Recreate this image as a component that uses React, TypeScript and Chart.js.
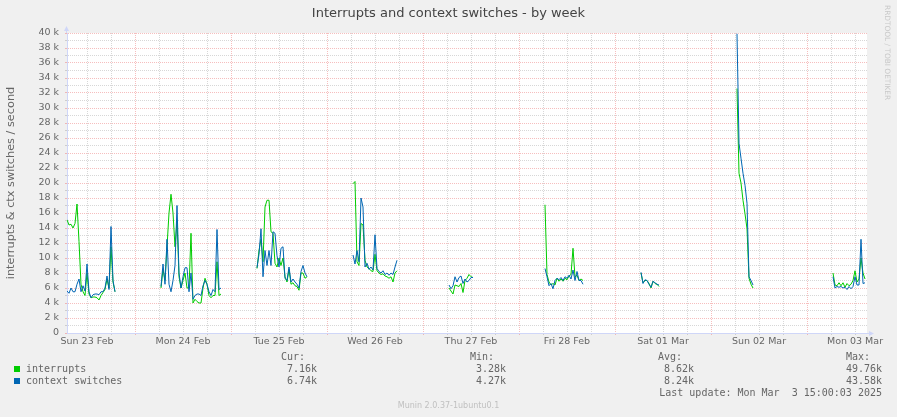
import React, { useEffect, useRef } from 'react';
import { Chart, registerables } from 'chart.js';

Chart.register(...registerables);

// ---- axis / labels ----
const chartTitle = 'Interrupts and context switches - by week';
const yAxisTitle = 'interrupts & ctx switches / second';
const dayLabels = ['Sun 23 Feb', 'Mon 24 Feb', 'Tue 25 Feb', 'Wed 26 Feb', 'Thu 27 Feb', 'Fri 28 Feb', 'Sat 01 Mar', 'Sun 02 Mar', 'Mon 03 Mar'];
// x axis: hours since Sun 23 Feb 07:00 (graph spans 200 hours, ends Mon 03 Mar 15:00)
const X_MAX_HOURS = 200;
const FIRST_NOON_HOUR = 5;
const FIRST_MIDNIGHT_HOUR = 17;
const Y_MAX_K = 40;
const STEP_HOURS = 0.5;

// ---- data (thousands per second), one run of samples per day ----
const segmentStartHours = [0, 23.5, 47.5, 71.5, 95.5, 119.5, 143.5, 167.5, 191.5];

const interruptsSun23 = [15.1, 14.4, 14.5, 14.0, 14.6, 17.2, 12.2, 6.5, 5.5, 5.0, 8.0, 5.2, 4.7, 4.8, 4.8, 4.7, 4.4, 5.0, 5.4, 5.8, 7.2, 6.0, 11.5, 6.8, 5.5];
const ctxSwitchesSun23 = [5.6, 5.3, 6.0, 5.5, 5.5, 6.5, 7.2, 5.5, 6.3, 5.6, 9.2, 5.5, 4.7, 5.1, 5.2, 5.2, 5.1, 5.5, 5.5, 6.0, 7.6, 5.8, 14.2, 7.0, 5.5];

const interruptsMon24 = [6.0, 8.5, 7.0, 11.5, 16.0, 18.5, 16.0, 11.5, 15.0, 7.5, 6.0, 7.0, 8.0, 6.0, 6.0, 13.3, 4.0, 4.5, 4.2, 4.0, 4.0, 6.0, 7.3, 6.5, 5.0, 4.7, 5.0, 5.0, 9.5, 5.0, 5.2];
const ctxSwitchesMon24 = [6.2, 9.2, 6.5, 12.5, 6.5, 5.5, 7.0, 9.0, 17.0, 8.0, 6.0, 7.5, 8.7, 8.7, 5.5, 8.0, 4.5, 5.0, 5.2, 5.2, 5.0, 6.3, 7.0, 6.5, 5.5, 5.0, 5.8, 5.5, 13.8, 5.8, 6.0];

const interruptsTue25 = [8.6, 11.0, 12.5, 9.5, 16.8, 17.7, 17.7, 13.5, 13.3, 9.3, 8.8, 10.0, 9.0, 10.0, 7.5, 6.8, 8.5, 6.5, 6.7, 6.3, 6.2, 5.7, 8.0, 8.0, 7.3, 7.5];
const ctxSwitchesTue25 = [8.7, 10.5, 13.9, 7.5, 11.0, 9.0, 11.0, 9.0, 13.5, 13.3, 10.3, 8.8, 11.3, 11.5, 7.3, 7.0, 8.8, 6.8, 7.2, 6.8, 6.5, 6.0, 8.2, 9.0, 8.0, 7.5];

const interruptsWed26 = [19.9, 20.2, 9.5, 9.0, 14.6, 14.4, 9.7, 8.8, 8.6, 8.3, 8.2, 10.5, 8.3, 8.0, 7.8, 7.9, 7.6, 7.5, 7.3, 7.5, 6.8, 8.0, 8.3];
const ctxSwitchesWed26 = [10.4, 9.2, 11.0, 9.5, 18.0, 16.8, 8.8, 9.3, 8.5, 8.8, 8.4, 13.1, 8.6, 8.2, 8.0, 8.3, 7.8, 8.0, 7.7, 8.0, 7.8, 8.8, 9.7];

const interruptsThu27 = [6.0, 5.6, 5.2, 6.4, 6.3, 6.2, 6.6, 5.4, 7.0, 7.3, 7.8, 7.5, 7.4];
const ctxSwitchesThu27 = [6.4, 5.9, 6.3, 7.5, 6.8, 7.4, 7.6, 6.6, 7.2, 6.8, 7.0, 7.4, 7.4];

const interruptsFri28 = [17.1, 7.8, 6.8, 6.4, 6.6, 6.4, 7.3, 6.9, 7.2, 6.9, 7.3, 7.1, 7.6, 7.8, 11.3, 7.5, 7.7, 7.0, 7.2, 7.0];
const ctxSwitchesFri28 = [8.6, 7.5, 6.3, 6.6, 5.9, 7.0, 7.3, 7.1, 7.4, 7.0, 7.5, 7.3, 7.7, 7.2, 8.4, 7.0, 8.2, 7.0, 7.0, 6.5];

const interruptsSat01 = [8.0, 6.7, 7.0, 7.0, 6.6, 6.0, 6.9, 6.6, 6.5, 6.2];
const ctxSwitchesSat01 = [8.1, 6.6, 7.1, 7.0, 6.5, 6.1, 6.9, 6.7, 6.5, 6.4];

const interruptsSun02 = [32.6, 21.3, 20.0, 17.7, 15.9, 13.9, 7.3, 6.5, 6.0];
const ctxSwitchesSun02 = [39.9, 25.3, 23.3, 21.3, 19.7, 17.3, 7.5, 7.0, 6.4];

const interruptsMon03 = [8.0, 6.4, 6.3, 6.7, 6.3, 6.7, 6.1, 6.6, 6.3, 6.5, 7.0, 8.3, 6.8, 7.2, 10.0, 8.0, 7.2];
const ctxSwitchesMon03 = [7.5, 6.0, 6.2, 6.1, 6.2, 6.0, 6.1, 5.8, 6.2, 5.9, 6.2, 7.5, 6.4, 6.4, 12.5, 6.6, 6.7];

const interruptsSegments = [interruptsSun23, interruptsMon24, interruptsTue25, interruptsWed26, interruptsThu27, interruptsFri28, interruptsSat01, interruptsSun02, interruptsMon03];
const ctxSwitchesSegments = [ctxSwitchesSun23, ctxSwitchesMon24, ctxSwitchesTue25, ctxSwitchesWed26, ctxSwitchesThu27, ctxSwitchesFri28, ctxSwitchesSat01, ctxSwitchesSun02, ctxSwitchesMon03];

// ---- legend ----
const legendHeaders = ['Cur:', 'Min:', 'Avg:', 'Max:'];
const interruptsStats = ['7.16k', '3.28k', '8.62k', '49.76k'];
const ctxSwitchesStats = ['6.74k', '4.27k', '8.24k', '43.58k'];
const lastUpdate = 'Last update: Mon Mar  3 15:00:03 2025';
const footerText = 'Munin 2.0.37-1ubuntu0.1';
const watermark = 'RRDTOOL / TOBI OETIKER';

// ---- styles ----
const GREEN = '#00cc00';
const BLUE = '#0066b3';
const AXIS = '#CFD6F8';
const MAJOR_GRID = 'rgba(235,110,110,0.45)';
const MINOR_GRID = 'rgba(130,130,130,0.32)';
const FONT_COLOR = '#666666';
const W = 897;
const H = 417;

function buildPoints(segments: number[][]) {
  const pts: { x: number; y: number | null }[] = [];
  segments.forEach((seg, s) => {
    const start = segmentStartHours[s];
    seg.forEach((v, i) => pts.push({ x: start + i * STEP_HOURS, y: v }));
    pts.push({ x: start + seg.length * STEP_HOURS, y: null });
  });
  return pts;
}

const isMidnight = (h: number) => (h - FIRST_MIDNIGHT_HOUR) % 24 === 0;
const isNoon = (h: number) => (h - FIRST_NOON_HOUR) % 24 === 0;

const bgPlugin = {
  id: 'canvasBg',
  beforeDraw(chart: any) {
    const { ctx, chartArea: a } = chart;
    ctx.save();
    ctx.fillStyle = '#ffffff';
    ctx.fillRect(a.left, a.top, a.right - a.left, a.bottom - a.top);
    ctx.restore();
  },
};

const arrowPlugin = {
  id: 'axisArrows',
  afterDraw(chart: any) {
    const { ctx, chartArea: a } = chart;
    const xs = chart.scales.x;
    const ys = chart.scales.y;
    const ax = Math.round(ys.right) - 0.5;
    const ay = Math.round(xs.top) + 0.5;
    ctx.save();
    ctx.strokeStyle = AXIS;
    ctx.fillStyle = AXIS;
    ctx.lineWidth = 1;
    ctx.beginPath();
    ctx.moveTo(ax, a.top);
    ctx.lineTo(ax, a.top - 3);
    ctx.moveTo(a.right, ay);
    ctx.lineTo(a.right + 3, ay);
    ctx.stroke();
    ctx.beginPath();
    ctx.moveTo(ax - 2.5, a.top - 2);
    ctx.lineTo(ax + 2.5, a.top - 2);
    ctx.lineTo(ax, a.top - 7);
    ctx.closePath();
    ctx.fill();
    ctx.beginPath();
    ctx.moveTo(a.right + 2, ay - 2.5);
    ctx.lineTo(a.right + 2, ay + 2.5);
    ctx.lineTo(a.right + 7, ay);
    ctx.closePath();
    ctx.fill();
    ctx.restore();
  },
};

type TxtProps = { x: number; y: number; align: 'left' | 'right' | 'center'; size: number; mono?: boolean; color?: string; children: React.ReactNode };
function Txt({ x, y, align, size, mono, color, children }: TxtProps) {
  const lh = Math.round(size * 1.2);
  const style: React.CSSProperties = {
    position: 'absolute',
    top: y - lh / 2,
    lineHeight: lh + 'px',
    fontSize: size,
    fontFamily: mono ? '"DejaVu Sans Mono", monospace' : '"DejaVu Sans", sans-serif',
    color: color || FONT_COLOR,
    whiteSpace: 'pre',
  };
  if (align === 'left') style.left = x;
  else if (align === 'right') style.right = W - x;
  else {
    style.left = 0;
    style.width = W;
    style.textAlign = 'center';
  }
  return <div style={style}>{children}</div>;
}

export default function App() {
  const canvasRef = useRef<HTMLCanvasElement>(null);

  useEffect(() => {
    const canvas = canvasRef.current;
    if (!canvas) return;
    const xTicks: number[] = [];
    for (let h = FIRST_NOON_HOUR; h <= X_MAX_HOURS; h += 6) xTicks.push(h);

    const chart = new Chart(canvas, {
      type: 'line',
      data: {
        datasets: [
          {
            label: 'interrupts',
            data: buildPoints(interruptsSegments) as any,
            borderColor: GREEN,
            borderWidth: 1,
            pointRadius: 0,
            tension: 0,
            spanGaps: false,
            order: 2,
          },
          {
            label: 'context switches',
            data: buildPoints(ctxSwitchesSegments) as any,
            borderColor: BLUE,
            borderWidth: 1,
            pointRadius: 0,
            tension: 0,
            spanGaps: false,
            order: 1,
          },
        ],
      },
      options: {
        animation: false,
        responsive: false,
        devicePixelRatio: 1,
        layout: { padding: { left: 0, top: 33, right: 30, bottom: 64 } },
        plugins: { legend: { display: false }, tooltip: { enabled: false }, title: { display: false } },
        scales: {
          x: {
            type: 'linear',
            min: 0,
            max: X_MAX_HOURS,
            afterBuildTicks: (scale: any) => {
              scale.ticks = xTicks.map((v) => ({ value: v }));
            },
            afterFit: (scale: any) => {
              scale.height = 20;
            },
            ticks: {
              autoSkip: false,
              maxRotation: 0,
              minRotation: 0,
              padding: 1,
              color: FONT_COLOR,
              font: { family: 'DejaVu Sans', size: 9.5 },
              callback: (v: any) => (isNoon(Number(v)) ? dayLabels[(Number(v) - FIRST_NOON_HOUR) / 24] : ''),
            },
            grid: {
              color: (c: any) => (c.tick && isMidnight(c.tick.value) ? MAJOR_GRID : MINOR_GRID),
              lineWidth: 1,
              drawTicks: true,
              tickLength: 2,
            },
            border: { display: true, color: AXIS, width: 1, dash: [1, 1] },
          },
          y: {
            type: 'linear',
            min: 0,
            max: Y_MAX_K,
            afterFit: (scale: any) => {
              scale.width = 67;
            },
            ticks: {
              stepSize: 1,
              maxTicksLimit: 100,
              autoSkip: false,
              padding: 6,
              color: FONT_COLOR,
              font: { family: 'DejaVu Sans', size: 9.5 },
              callback: (v: any) => {
                const n = Number(v);
                if (n % 2 !== 0) return '';
                return n === 0 ? '0' : n + ' k';
              },
            },
            grid: {
              color: (c: any) => (c.tick && c.tick.value % 2 === 0 ? MAJOR_GRID : MINOR_GRID),
              lineWidth: 1,
              drawTicks: true,
              tickLength: 2,
            },
            border: { display: true, color: AXIS, width: 1, dash: [1, 1] },
            title: {
              display: true,
              text: yAxisTitle,
              color: FONT_COLOR,
              font: { family: 'DejaVu Sans', size: 11.3 },
              padding: { top: 4, bottom: 0 },
            },
          },
        },
      },
      plugins: [bgPlugin, arrowPlugin],
    } as any);
    return () => chart.destroy();
  }, []);

  const headerRight = [305, 494, 682, 870];
  const valueRight = [317, 506, 694, 882];

  return (
    <div style={{ position: 'fixed', left: 0, top: 0, width: W, height: H, background: '#f0f0f0', overflow: 'hidden' }}>
      <canvas ref={canvasRef} width={W} height={H} style={{ position: 'absolute', left: 0, top: 0, width: W, height: H }} />
      <Txt x={W / 2} y={13} align="center" size={13} color="#444444">{chartTitle}</Txt>
      <div
        style={{
          position: 'absolute',
          left: 882,
          top: 5,
          width: 10,
          writingMode: 'vertical-rl',
          fontFamily: '"DejaVu Sans", sans-serif',
          fontSize: 7.4,
          lineHeight: '10px',
          color: '#c8c8c8',
          whiteSpace: 'pre',
        }}
      >
        {watermark}
      </div>
      {legendHeaders.map((h, i) => (
        <Txt key={h} x={headerRight[i]} y={357} align="right" size={10} mono>{h}</Txt>
      ))}
      <div style={{ position: 'absolute', left: 14, top: 366, width: 6, height: 6, background: GREEN }} />
      <Txt x={26} y={369} align="left" size={10} mono>interrupts</Txt>
      {interruptsStats.map((v, i) => (
        <Txt key={'i' + i} x={valueRight[i]} y={369} align="right" size={10} mono>{v}</Txt>
      ))}
      <div style={{ position: 'absolute', left: 14, top: 378, width: 6, height: 6, background: BLUE }} />
      <Txt x={26} y={381} align="left" size={10} mono>context switches</Txt>
      {ctxSwitchesStats.map((v, i) => (
        <Txt key={'c' + i} x={valueRight[i]} y={381} align="right" size={10} mono>{v}</Txt>
      ))}
      <Txt x={882} y={393} align="right" size={10} mono>{lastUpdate}</Txt>
      <Txt x={W / 2} y={406} align="center" size={8} color="#c0c0c0">{footerText}</Txt>
    </div>
  );
}
